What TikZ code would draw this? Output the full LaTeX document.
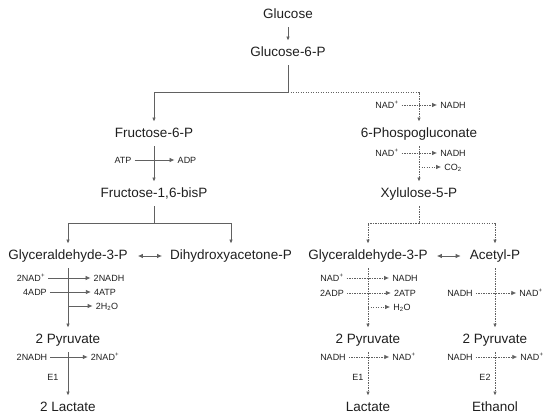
\documentclass[tikz,border=0pt]{standalone}
\usepackage{fontspec}
\setmainfont{Liberation Sans}
\usetikzlibrary{arrows.meta,calc}
\begin{document}
\begin{tikzpicture}[x=1pt,y=-1pt,
 mainnode/.style={font=\fontsize{13.5}{15}\selectfont, inner xsep=2pt, inner ysep=6pt, text height=9.7pt, text depth=2.8pt, text=black!88},
 smallnode/.style={font=\fontsize{9}{10}\selectfont, inner xsep=3pt, inner ysep=1pt, text height=6.4pt, text depth=0pt, text=black!88},
 conn/.style={draw=black!62, line width=0.75pt},
 dotline/.style={conn, dash pattern=on 1.4pt off 1.1pt},
 vtip/.style={-{Latex[length=4pt,width=3.6pt]}},
 stip/.style={-{Latex[length=5pt,width=4.5pt]}},
 dtip/.style={{Latex[length=5pt,width=4.5pt]}-{Latex[length=5pt,width=4.5pt]}},
]
\useasboundingbox (0,0) rectangle (550,419);

% main metabolites
\node[mainnode] (glc)  at (288,15)  {Glucose};
\node[mainnode] (g6p)  at (288,53)  {Glucose-6-P};
\node[mainnode] (f6p)  at (154,134) {Fructose-6-P};
\node[mainnode] (pg)   at (419,134) {6-Phospogluconate};
\node[mainnode] (f16)  at (154,194) {Fructose-1,6-bisP};
\node[mainnode] (xu5p) at (419,194) {Xylulose-5-P};
\node[mainnode] (g3pL) at (68,256)  {Glyceraldehyde-3-P};
\node[mainnode] (dhap) at (231,256) {Dihydroxyacetone-P};
\node[mainnode] (g3pR) at (368,256) {Glyceraldehyde-3-P};
\node[mainnode] (acp)  at (495,256) {Acetyl-P};
\node[mainnode] (pyrL) at (68,340)  {2 Pyruvate};
\node[mainnode] (pyrR) at (368,340) {2 Pyruvate};
\node[mainnode] (pyrA) at (495,340) {2 Pyruvate};
\node[mainnode] (lacL) at (68,408)  {2 Lactate};
\node[mainnode] (lacR) at (368,408) {Lactate};
\node[mainnode] (eth)  at (495,408) {Ethanol};

\coordinate (s1) at (288,92);
\coordinate (s2) at (154,223);
\coordinate (s3) at (419,223);

% main connectors
\draw[conn,vtip] (glc) -- (g6p);
\draw[conn,vtip] (g6p.south) -- (s1) -| (f6p.north);
\draw[dotline,vtip] (s1) -| (pg.north);
\draw[conn,vtip] (f6p) -- (f16);
\draw[dotline,vtip] (pg) -- (xu5p);
\draw[conn] (f16.south) -- (s2);
\draw[conn,vtip] (s2) -| (g3pL.north);
\draw[conn,vtip] (s2) -| (dhap.north);
\draw[dotline] (xu5p.south) -- (s3);
\draw[dotline,vtip] (s3) -| (g3pR.north);
\draw[dotline,vtip] (s3) -| (acp.north);
\draw[conn,dtip,shorten <=8pt,shorten >=6pt] (g3pL) -- (dhap);
\draw[conn,dtip,shorten <=7pt,shorten >=7pt] (g3pR) -- (acp);
\draw[conn,vtip] (g3pL) -- (pyrL);
\draw[conn,vtip] (pyrL) -- (lacL);
\draw[dotline,vtip] (g3pR) -- (pyrR);
\draw[dotline,vtip] (pyrR) -- (lacR);
\draw[dotline,vtip] (acp) -- (pyrA);
\draw[dotline,vtip] (pyrA) -- (eth);

% side reactions, left
\node[smallnode] (atp)   at (123,160) {ATP};
\node[smallnode] (adp)   at (187,160) {ADP};
\draw[conn,stip] (atp) -- (adp);
\node[smallnode] (nadA)  at (31,278)  {2NAD\textsuperscript{+}};
\node[smallnode] (nadhA) at (109,278) {2NADH};
\draw[conn,stip] (nadA) -- (nadhA);
\node[smallnode] (adpA)  at (35,292)  {4ADP};
\node[smallnode] (atpA)  at (105,292) {4ATP};
\draw[conn,stip] (adpA) -- (atpA);
\node[smallnode] (h2oA)  at (107,306) {2H\textsubscript{2}O};
\draw[conn,stip] (g3pL |- h2oA) -- (h2oA);
\node[smallnode] (nadhB) at (32,357)  {2NADH};
\node[smallnode] (nadB)  at (105,357) {2NAD\textsuperscript{+}};
\draw[conn,stip] (nadhB) -- (nadB);
\node[smallnode] (e1L)   at (53,377)  {E1};

% side reactions, right
\node[smallnode] (nadC)  at (387,105) {NAD\textsuperscript{+}};
\node[smallnode] (nadhC) at (453,105) {NADH};
\draw[dotline,stip] (nadC) -- (nadhC);
\node[smallnode] (nadD)  at (387,153) {NAD\textsuperscript{+}};
\node[smallnode] (nadhD) at (453,153) {NADH};
\draw[dotline,stip] (nadD) -- (nadhD);
\node[smallnode] (co2)   at (453,167) {CO\textsubscript{2}};
\draw[dotline,stip] (pg |- co2) -- (co2);
\node[smallnode] (nadE)  at (332,278) {NAD\textsuperscript{+}};
\node[smallnode] (nadhE) at (405,278) {NADH};
\draw[dotline,stip] (nadE) -- (nadhE);
\node[smallnode] (adpE)  at (332,293) {2ADP};
\node[smallnode] (atpE)  at (405,293) {2ATP};
\draw[dotline,stip] (adpE) -- (atpE);
\node[smallnode] (h2oE)  at (402,307) {H\textsubscript{2}O};
\draw[dotline,stip] (g3pR |- h2oE) -- (h2oE);
\node[smallnode] (nadhF) at (460,293) {NADH};
\node[smallnode] (nadF)  at (531,293) {NAD\textsuperscript{+}};
\draw[dotline,stip] (nadhF) -- (nadF);
\node[smallnode] (nadhG) at (333,357) {NADH};
\node[smallnode] (nadG)  at (404,357) {NAD\textsuperscript{+}};
\draw[dotline,stip] (nadhG) -- (nadG);
\node[smallnode] (e1R)   at (358,377) {E1};
\node[smallnode] (nadhH) at (460,357) {NADH};
\node[smallnode] (nadH)  at (532,357) {NAD\textsuperscript{+}};
\draw[dotline,stip] (nadhH) -- (nadH);
\node[smallnode] (e2)    at (485,377) {E2};
\end{tikzpicture}
\end{document}
